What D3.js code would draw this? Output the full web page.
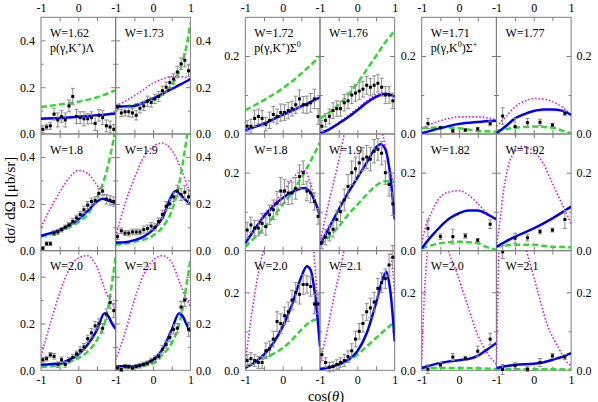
<!DOCTYPE html>
<html>
<head>
<meta charset="utf-8">
<script src="https://cdn.jsdelivr.net/npm/d3@7"></script>
<style>
  body { margin: 0; background: #fff; }
  svg { display: block; }
  text { font-family: "Liberation Serif", "Times New Roman", serif; }
</style>
</head>
<body>
<div id="my_dataviz"></div>
<script>
var width = 598
var height = 402

// bin centres of the data (cos theta)
var cos20 = [-0.95, -0.85, -0.75, -0.65, -0.55, -0.45, -0.35, -0.25, -0.15, -0.05,
             0.05, 0.15, 0.25, 0.35, 0.45, 0.55, 0.65, 0.75, 0.85, 0.95]
var cos6 = [-0.833, -0.5, -0.167, 0.167, 0.5, 0.833]

var xTickLabels = [-1, 0, 1]

// ---- p(gamma,K+)Lambda ----
var lamW = ["W=1.62", "W=1.73", "W=1.8", "W=1.9", "W=2.0", "W=2.1"]
var lamPts = [
  [0.02, 0.03, 0.035, 0.085, 0.06, 0.075, 0.06, 0.12, 0.16, 0.075, 0.07, 0.065, 0.065, 0.07, 0.045, 0.08, 0.07, 0.035, 0.03, 0.02],
  [0.115, 0.09, 0.095, 0.095, 0.09, 0.08, 0.11, 0.12, 0.14, 0.135, 0.15, 0.16, 0.185, 0.2, 0.22, 0.235, 0.265, 0.3, 0.315, 0.27],
  [0.01, 0.03, 0.03, 0.075, 0.08, 0.09, 0.1, 0.11, 0.125, 0.14, 0.155, 0.175, 0.195, 0.21, 0.215, 0.245, 0.255, 0.22, 0.215, 0.21],
  [0.06, 0.085, 0.075, 0.075, 0.08, 0.08, 0.08, 0.09, 0.095, 0.105, 0.1, 0.125, 0.155, 0.19, 0.2, 0.23, 0.255, 0.24, 0.25, 0.23],
  [0.045, 0.05, 0.066, 0.06, 0.024, 0.045, 0.025, 0.043, 0.055, 0.07, 0.085, 0.1, 0.135, 0.16, 0.19, 0.2, 0.18, 0.24, 0.29, 0.255],
  [0.01, 0.003, 0.017, 0.015, 0.01, 0.017, 0.02, 0.025, 0.03, 0.04, 0.05, 0.06, 0.09, 0.11, 0.14, 0.175, 0.18, 0.27, 0.3, 0.175]
]
var lamErr = [
  [0.015, 0.012, 0.015, 0.025, 0.03, 0.025, 0.03, 0.025, 0.035, 0.03, 0.025, 0.03, 0.022, 0.025, 0.03, 0.025, 0.03, 0.025, 0.025, 0.02],
  [0.012, 0.015, 0.018, 0.02, 0.018, 0.02, 0.02, 0.02, 0.022, 0.02, 0.02, 0.022, 0.02, 0.022, 0.025, 0.022, 0.025, 0.025, 0.028, 0.025],
  [0.008, 0.008, 0.008, 0.01, 0.01, 0.01, 0.01, 0.01, 0.012, 0.012, 0.012, 0.015, 0.015, 0.015, 0.015, 0.02, 0.02, 0.02, 0.02, 0.02],
  [0.012, 0.012, 0.01, 0.012, 0.012, 0.012, 0.012, 0.015, 0.015, 0.015, 0.015, 0.015, 0.018, 0.02, 0.02, 0.02, 0.025, 0.025, 0.028, 0.03],
  [0.01, 0.01, 0.01, 0.012, 0.012, 0.012, 0.012, 0.012, 0.012, 0.012, 0.015, 0.015, 0.015, 0.018, 0.018, 0.02, 0.02, 0.022, 0.025, 0.03],
  [0.008, 0.008, 0.008, 0.008, 0.008, 0.008, 0.01, 0.01, 0.01, 0.012, 0.012, 0.012, 0.015, 0.015, 0.018, 0.02, 0.02, 0.025, 0.028, 0.03]
]
var lamBlue = [
  [[-1, 0.065], [-0.5, 0.068], [0, 0.074], [0.5, 0.08], [1, 0.088]],
  [[-1, 0.12], [-0.75, 0.117], [-0.5, 0.12], [-0.25, 0.135], [0, 0.152], [0.25, 0.172], [0.5, 0.193], [0.75, 0.213], [1, 0.235]],
  [[-1, 0.064], [-0.75, 0.075], [-0.5, 0.09], [-0.25, 0.108], [0, 0.133], [0.25, 0.17], [0.5, 0.21], [0.65, 0.222], [0.8, 0.214], [1, 0.203]],
  [[-1, 0.035], [-0.75, 0.036], [-0.5, 0.045], [-0.25, 0.06], [0, 0.09], [0.25, 0.14], [0.5, 0.235], [0.6, 0.255], [0.7, 0.245], [0.85, 0.22], [1, 0.198]],
  [[-1, 0.024], [-0.5, 0.03], [-0.25, 0.045], [0, 0.067], [0.25, 0.11], [0.5, 0.173], [0.7, 0.244], [0.8, 0.232], [0.9, 0.2], [1, 0.177]],
  [[-1, 0.017], [-0.5, 0.017], [-0.25, 0.028], [0, 0.045], [0.25, 0.088], [0.5, 0.173], [0.7, 0.244], [0.8, 0.23], [0.9, 0.195], [1, 0.166]]
]
var lamGreen = [
  [[-1, 0.115], [-0.5, 0.126], [0, 0.138], [0.5, 0.157], [1, 0.187]],
  [[-1, 0.115], [-0.75, 0.118], [-0.5, 0.125], [-0.25, 0.133], [0, 0.147], [0.25, 0.17], [0.5, 0.21], [0.75, 0.29], [0.9, 0.38], [1, 0.475]],
  [[-1, 0.06], [-0.75, 0.07], [-0.5, 0.083], [-0.25, 0.1], [0, 0.122], [0.25, 0.155], [0.5, 0.228], [0.75, 0.336], [0.9, 0.44], [1, 0.52]],
  [[-1, 0.025], [-0.5, 0.038], [0, 0.065], [0.25, 0.1], [0.5, 0.17], [0.65, 0.25], [0.75, 0.33], [0.85, 0.43], [0.95, 0.53]],
  [[-1, 0.014], [-0.5, 0.024], [0, 0.052], [0.25, 0.08], [0.5, 0.13], [0.75, 0.23], [0.9, 0.37], [1, 0.49]],
  [[-1, 0.007], [-0.5, 0.014], [0, 0.03], [0.25, 0.067], [0.5, 0.116], [0.75, 0.23], [0.9, 0.37], [1, 0.47]]
]
var lamMag = [
  [[-1, 0.067], [-0.5, 0.07], [0, 0.075], [0.5, 0.081], [1, 0.09]],
  [[-1, 0.12], [-0.75, 0.14], [-0.5, 0.163], [-0.25, 0.19], [0, 0.217], [0.25, 0.235], [0.5, 0.245], [0.75, 0.245], [1, 0.232]],
  [[-1, 0.1], [-0.75, 0.18], [-0.5, 0.25], [-0.25, 0.31], [0, 0.343], [0.25, 0.33], [0.5, 0.28], [0.75, 0.23], [1, 0.21]],
  [[-1, 0.06], [-0.75, 0.2], [-0.5, 0.31], [-0.25, 0.4], [0, 0.445], [0.25, 0.46], [0.5, 0.43], [0.75, 0.35], [1, 0.24]],
  [[-1, 0.06], [-0.75, 0.2], [-0.5, 0.33], [-0.25, 0.43], [0, 0.48], [0.25, 0.49], [0.5, 0.44], [0.75, 0.33], [1, 0.265]],
  [[-1, 0.045], [-0.75, 0.16], [-0.5, 0.3], [-0.25, 0.41], [0, 0.47], [0.25, 0.49], [0.5, 0.46], [0.75, 0.36], [1, 0.27]]
]

// ---- p(gamma,K+)Sigma0 ----
var sig0W = ["W=1.72", "W=1.76", "W=1.8", "W=1.9", "W=2.0", "W=2.1"]
var sig0Pts = [
  [0.02, 0.02, 0.04, 0.045, 0.04, 0.025, 0.035, 0.05, 0.045, 0.055, 0.055, 0.06, 0.065, 0.075, 0.09, 0.075, 0.075, 0.08, 0.09, 0.045],
  [0.02, 0.035, 0.045, 0.06, 0.065, 0.065, 0.08, 0.085, 0.1, 0.105, 0.11, 0.115, 0.125, 0.12, 0.125, 0.13, 0.12, 0.1, 0.1, 0.085],
  [0.053, 0.066, 0.058, 0.058, 0.07, 0.062, 0.092, 0.105, 0.122, 0.153, 0.153, 0.148, 0.148, 0.16, 0.19, 0.2, 0.153, 0.148, 0.126, 0.088],
  [0.02, 0.035, 0.045, 0.055, 0.08, 0.1, 0.13, 0.165, 0.2, 0.21, 0.225, 0.235, 0.24, 0.235, 0.255, 0.26, 0.25, 0.2, 0.17, 0.12],
  [0.025, 0.03, 0.025, 0.02, 0.02, 0.05, 0.055, 0.08, 0.125, 0.12, 0.14, 0.15, 0.18, 0.2, 0.195, 0.22, 0.22, 0.215, 0.17, 0.17],
  [0.04, 0.02, 0.008, 0.01, 0.015, 0.02, 0.025, 0.035, 0.05, 0.08, 0.1, 0.12, 0.15, 0.16, 0.175, 0.21, 0.225, 0.235, 0.27, 0.29]
]
var sig0Err = [
  [0.014, 0.018, 0.021, 0.019, 0.02, 0.017, 0.021, 0.02, 0.019, 0.022, 0.02, 0.021, 0.019, 0.022, 0.023, 0.021, 0.022, 0.024, 0.025, 0.02],
  [0.014, 0.017, 0.019, 0.02, 0.02, 0.019, 0.021, 0.02, 0.022, 0.021, 0.022, 0.02, 0.023, 0.022, 0.024, 0.022, 0.023, 0.022, 0.021, 0.02],
  [0.02, 0.02, 0.02, 0.02, 0.025, 0.022, 0.025, 0.025, 0.03, 0.035, 0.03, 0.03, 0.028, 0.028, 0.03, 0.03, 0.025, 0.025, 0.022, 0.02],
  [0.015, 0.02, 0.02, 0.02, 0.022, 0.025, 0.028, 0.03, 0.03, 0.03, 0.03, 0.03, 0.03, 0.03, 0.03, 0.028, 0.03, 0.03, 0.03, 0.03],
  [0.015, 0.015, 0.015, 0.015, 0.015, 0.02, 0.02, 0.02, 0.025, 0.025, 0.022, 0.025, 0.025, 0.025, 0.025, 0.025, 0.022, 0.025, 0.025, 0.025],
  [0.015, 0.012, 0.012, 0.012, 0.012, 0.012, 0.015, 0.015, 0.018, 0.02, 0.02, 0.022, 0.022, 0.025, 0.025, 0.025, 0.025, 0.025, 0.028, 0.03]
]
var sig0Blue = [
  [[-1, 0.01], [-0.5, 0.027], [0, 0.049], [0.5, 0.071], [1, 0.094]],
  [[-1, 0.002], [-0.75, 0.012], [-0.5, 0.027], [-0.25, 0.043], [0, 0.061], [0.25, 0.08], [0.5, 0.095], [0.75, 0.103], [1, 0.096]],
  [[-1, 0.019], [-0.75, 0.055], [-0.5, 0.088], [-0.25, 0.114], [0, 0.135], [0.25, 0.15], [0.5, 0.16], [0.6, 0.161], [0.75, 0.148], [0.9, 0.118], [1, 0.09]],
  [[-1, 0.015], [-0.75, 0.06], [-0.5, 0.105], [-0.25, 0.148], [0, 0.187], [0.25, 0.226], [0.5, 0.265], [0.62, 0.273], [0.75, 0.26], [0.85, 0.215], [0.93, 0.15], [1, 0.08]],
  [[-1, 0.006], [-0.75, 0.02], [-0.5, 0.04], [-0.25, 0.07], [0, 0.112], [0.25, 0.168], [0.5, 0.24], [0.65, 0.267], [0.75, 0.257], [0.85, 0.206], [0.93, 0.138], [1, 0.061]],
  [[-1, 0.003], [-0.5, 0.015], [-0.25, 0.027], [0, 0.049], [0.25, 0.095], [0.5, 0.172], [0.7, 0.24], [0.78, 0.253], [0.85, 0.225], [0.91, 0.18], [1, 0.074]]
]
var sig0Green = [
  [[-1, 0.061], [-0.5, 0.087], [0, 0.117], [0.5, 0.155], [1, 0.2]],
  [[-1, 0.04], [-0.75, 0.055], [-0.5, 0.075], [-0.25, 0.1], [0, 0.13], [0.25, 0.165], [0.5, 0.2], [0.75, 0.235], [1, 0.265]],
  [[-1, 0.01], [-0.5, 0.058], [0, 0.118], [0.25, 0.148], [0.5, 0.187], [0.75, 0.23], [1, 0.278]],
  [[-1, 0.015], [-0.5, 0.062], [-0.25, 0.092], [0, 0.118], [0.25, 0.144], [0.5, 0.167], [0.75, 0.178], [1, 0.178]],
  [[-1, 0.009], [-0.5, 0.031], [0, 0.057], [0.25, 0.078], [0.5, 0.104], [0.75, 0.125], [0.9, 0.13], [1, 0.128]],
  [[-1, 0.003], [-0.5, 0.014], [0, 0.04], [0.25, 0.061], [0.5, 0.083], [0.75, 0.104], [1, 0.125]]
]
var sig0Mag = [
  [[-1, 0.011], [-0.5, 0.028], [0, 0.05], [0.5, 0.072], [1, 0.095]],
  [[-1, 0.004], [-0.75, 0.014], [-0.5, 0.03], [-0.25, 0.047], [0, 0.066], [0.25, 0.085], [0.5, 0.1], [0.75, 0.106], [1, 0.097]],
  [[-1, 0.019], [-0.75, 0.055], [-0.5, 0.092], [-0.25, 0.12], [0, 0.148], [0.25, 0.183], [0.5, 0.204], [0.6, 0.205], [0.75, 0.17], [0.9, 0.12], [1, 0.085]],
  [[-1, 0.02], [-0.75, 0.13], [-0.5, 0.23], [-0.35, 0.3], [-0.2, 0.36], [0, 0.41], [0.4, 0.4], [0.7, 0.29], [0.8, 0.24], [0.9, 0.2], [1, 0.16]],
  [[-1, 0.019], [-0.9, 0.095], [-0.8, 0.163], [-0.7, 0.223], [-0.6, 0.274], [-0.5, 0.31], [-0.3, 0.37], [0, 0.43], [0.4, 0.46], [0.7, 0.43], [0.8, 0.34], [0.9, 0.22], [0.95, 0.14], [1, 0.06]],
  [[-1, 0.02], [-0.8, 0.104], [-0.6, 0.2], [-0.5, 0.24], [-0.35, 0.31], [0, 0.42], [0.5, 0.45], [0.8, 0.36], [0.9, 0.3], [1, 0.2]]
]

// ---- p(gamma,K0)Sigma+ ----
var sigpW = ["W=1.71", "W=1.77", "W=1.82", "W=1.92", "W=2.0", "W=2.1"]
var sigpPts = [
  [0.027, 0.016, 0.008, 0.01, 0.013, 0.027],
  [0.046, 0.019, 0.029, 0.03, 0.023, 0.053],
  [0.057, 0.036, 0.036, 0.038, 0.027, 0.068],
  [-0.003, 0.032, 0.033, 0.049, 0.053, 0.08],
  [0.003, 0.014, 0.034, 0.031, 0.049, 0.08],
  [0.002, 0.012, 0.003, 0.02, 0.037, 0.034]
]
var sigpErr = [
  [0.013, 0.004, 0.004, 0.004, 0.004, 0.006],
  [0.021, 0.021, 0.011, 0.008, 0.004, 0.006],
  [0.021, 0.007, 0.019, 0.006, 0.004, 0.011],
  [0.017, 0.013, 0.008, 0.006, 0.005, 0.023],
  [0.011, 0.006, 0.009, 0.005, 0.013, 0.015],
  [0.013, 0.007, 0.006, 0.01, 0.006, 0.006]
]
var sigpBlue = [
  [[-1, 0.002], [-0.5, 0.015], [0, 0.026], [0.5, 0.031], [1, 0.034]],
  [[-1, 0.002], [-0.75, 0.02], [-0.5, 0.04], [-0.25, 0.051], [0, 0.059], [0.25, 0.063], [0.5, 0.063], [0.75, 0.06], [1, 0.049]],
  [[-1, 0.006], [-0.75, 0.036], [-0.5, 0.062], [-0.25, 0.083], [0, 0.096], [0.25, 0.103], [0.5, 0.103], [0.75, 0.094], [1, 0.08]],
  [[-1, 0.01], [-0.5, 0.036], [0, 0.057], [0.5, 0.083], [1, 0.113]],
  [[-1, 0.006], [-0.5, 0.019], [0, 0.026], [0.25, 0.029], [0.5, 0.037], [0.75, 0.053], [1, 0.07]],
  [[-1, 0.006], [-0.5, 0.014], [0, 0.017], [0.25, 0.02], [0.5, 0.027], [0.75, 0.034], [1, 0.044]]
]
var sigpGreen = [
  [[-1, 0.015], [-0.5, 0.017], [0, 0.015], [0.5, 0.008], [1, 0.006]],
  [[-1, 0.008], [-0.5, 0.016], [0, 0.019], [0.5, 0.016], [0.75, 0.009], [1, 0.002]],
  [[-1, 0.006], [-0.5, 0.019], [0, 0.023], [0.5, 0.019], [0.75, 0.009], [1, 0.002]],
  [[-1, 0.01], [-0.5, 0.015], [0, 0.015], [0.5, 0.01], [1, 0.009]],
  [[-1, 0.006], [0, 0.006], [1, 0.003]],
  [[-1, 0.003], [0, 0.003], [1, 0.002]]
]
var sigpMag = [
  [[-1, 0.015], [-0.5, 0.034], [0, 0.044], [0.5, 0.044], [1, 0.036]],
  [[-1, 0.02], [-0.75, 0.044], [-0.5, 0.07], [-0.25, 0.084], [0, 0.091], [0.25, 0.09], [0.5, 0.083], [0.75, 0.07], [1, 0.049]],
  [[-1, 0.02], [-0.9, 0.06], [-0.75, 0.096], [-0.5, 0.138], [-0.25, 0.151], [0, 0.154], [0.25, 0.143], [0.5, 0.121], [0.75, 0.096], [1, 0.083]],
  [[-1, 0.01], [-0.9, 0.08], [-0.8, 0.16], [-0.7, 0.21], [-0.5, 0.255], [-0.3, 0.267], [0, 0.255], [0.25, 0.224], [0.5, 0.173], [0.75, 0.121], [1, 0.07]],
  [[-1, 0.03], [-0.95, 0.15], [-0.9, 0.24], [-0.85, 0.3], [-0.8, 0.35], [-0.55, 0.4], [-0.3, 0.31], [-0.1, 0.26], [0.2, 0.175], [0.5, 0.09], [0.75, 0.045], [1, 0.015]],
  [[-1, 0.02], [-0.97, 0.15], [-0.94, 0.3], [-0.9, 0.4], [-0.5, 0.45], [-0.2, 0.31], [0, 0.24], [0.1, 0.205], [0.35, 0.12], [0.65, 0.06], [0.9, 0.02], [1, 0.012]]
]

// reaction labels: [text, superscript?]
var lamLabel = [["p(γ,K", 0], ["+", 1], [")Λ", 0]]
var sig0Label = [["p(γ,K", 0], ["+", 1], [")Σ", 0], ["0", 1]]
var sigpLabel = [["p(γ,K", 0], ["0", 1], [")Σ", 0], ["+", 1]]

// layout
var panelW = 74.7
var groupX = [41, 245.3, 421.7]
var rowTop = [17.3, 134, 250.7]
var rowBot = [134, 250.7, 370.3]
var pxPerUnit = [234, 390, 390]          // pixels per 1 µb/sr
var yMinor = [[0.1, 0.3], [0.1], [0.1]]
var yMajor = [[0.2, 0.4], [0.2], [0.2]]
var yLabels = [[0, 0.2, 0.4], [0, 0.2], [0, 0.2]]
var rightLabels = [true, false, true]

var groups = [
  { W: lamW, pts: lamPts, err: lamErr, blue: lamBlue, green: lamGreen, mag: lamMag, cos: cos20, label: lamLabel },
  { W: sig0W, pts: sig0Pts, err: sig0Err, blue: sig0Blue, green: sig0Green, mag: sig0Mag, cos: cos20, label: sig0Label },
  { W: sigpW, pts: sigpPts, err: sigpErr, blue: sigpBlue, green: sigpGreen, mag: sigpMag, cos: cos6, label: sigpLabel }
]

var frameColor = "#7f7f7f"
var serif = '"Liberation Serif", "Times New Roman", serif'

var svg = d3.select("#my_dataviz")
    .append("svg")
    .attr("width", width)
    .attr("height", height)

var defs = svg.append("defs")

function styleAxis(g, size) {
    g.attr("font-family", serif).attr("font-size", size)
    g.select(".domain").remove()
    g.selectAll(".tick line").attr("stroke", frameColor)
}

groups.forEach(function (g, gi) {
    for (var i = 0; i < 6; i++) {
        var row = Math.floor(i / 2), col = i % 2
        var x0 = groupX[gi] + col * panelW
        var x = d3.scaleLinear().domain([-1, 1]).range([x0, x0 + panelW])
        var y = d3.scaleLinear()
            .domain([0, (rowBot[row] - rowTop[row]) / pxPerUnit[gi]])
            .range([rowBot[row], rowTop[row]])

        var panel = svg.append("g")
        var clipId = "clip" + gi + "_" + i
        defs.append("clipPath").attr("id", clipId)
            .append("rect")
            .attr("x", x0).attr("y", rowTop[row])
            .attr("width", panelW).attr("height", rowBot[row] - rowTop[row])

        // inner ticks on all four sides
        panel.append("g").attr("transform", "translate(" + x0 + ",0)")
            .call(d3.axisRight(y).tickValues(yMinor[gi]).tickSize(2.5).tickFormat("")).call(styleAxis, 12)
        panel.append("g").attr("transform", "translate(" + x0 + ",0)")
            .call(d3.axisRight(y).tickValues(yMajor[gi]).tickSize(4.5).tickFormat("")).call(styleAxis, 12)
        panel.append("g").attr("transform", "translate(" + (x0 + panelW) + ",0)")
            .call(d3.axisLeft(y).tickValues(yMinor[gi]).tickSize(2.5).tickFormat("")).call(styleAxis, 12)
        panel.append("g").attr("transform", "translate(" + (x0 + panelW) + ",0)")
            .call(d3.axisLeft(y).tickValues(yMajor[gi]).tickSize(4.5).tickFormat("")).call(styleAxis, 12)
        panel.append("g").attr("transform", "translate(0," + rowTop[row] + ")")
            .call(d3.axisBottom(x).tickValues([-0.5, 0, 0.5]).tickSize(4).tickFormat("")).call(styleAxis, 12)
        panel.append("g").attr("transform", "translate(0," + rowBot[row] + ")")
            .call(d3.axisTop(x).tickValues([-0.5, 0, 0.5]).tickSize(4).tickFormat("")).call(styleAxis, 12)

        // frame
        panel.append("rect")
            .attr("x", x0).attr("y", rowTop[row])
            .attr("width", panelW).attr("height", rowBot[row] - rowTop[row])
            .attr("fill", "none")
            .attr("stroke", frameColor)
            .attr("stroke-width", 1)

        // x tick labels on top and bottom rows
        var xVals = col == 0 ? [-1, 0] : xTickLabels
        if (row == 0) {
            panel.append("g").attr("transform", "translate(0," + rowTop[row] + ")")
                .call(d3.axisTop(x).tickValues(xVals).tickSize(0).tickPadding(5.5).tickFormat(function (d) { return String(d) }))
                .call(styleAxis, 12)
        }
        if (row == 2) {
            panel.append("g").attr("transform", "translate(0," + rowBot[row] + ")")
                .call(d3.axisBottom(x).tickValues(xVals).tickSize(0).tickPadding(5.5).tickFormat(function (d) { return String(d) }))
                .call(styleAxis, 12)
        }

        // y tick labels
        if (col == 0) {
            panel.append("g").attr("transform", "translate(" + x0 + ",0)")
                .call(d3.axisLeft(y).tickValues(yLabels[gi]).tickSize(0).tickPadding(6).tickFormat(d3.format(".1f")))
                .call(styleAxis, 12)
        }
        if (col == 1 && rightLabels[gi]) {
            panel.append("g").attr("transform", "translate(" + (x0 + panelW) + ",0)")
                .call(d3.axisRight(y).tickValues(yLabels[gi]).tickSize(0).tickPadding(5.5).tickFormat(d3.format(".1f")))
                .call(styleAxis, 12)
        }

        // model curves
        var line = d3.line()
            .x(function (d) { return x(d[0]) })
            .y(function (d) { return y(d[1]) })
            .curve(d3.curveMonotoneX)
        var curves = panel.append("g").attr("clip-path", "url(#" + clipId + ")")
        curves.append("path").datum(g.mag[i])
            .attr("d", line).attr("fill", "none")
            .attr("stroke", "#ff00ff").attr("stroke-width", 1.6)
            .attr("stroke-dasharray", "1.5,2")
        curves.append("path").datum(g.green[i])
            .attr("d", line).attr("fill", "none")
            .attr("stroke", "#2edc2e").attr("stroke-width", 2.5)
            .attr("stroke-dasharray", "6,3")
        curves.append("path").datum(g.blue[i])
            .attr("d", line).attr("fill", "none")
            .attr("stroke", "#0000ff").attr("stroke-width", 2.5)

        // data with error bars
        var data = g.pts[i].map(function (v, k) { return { c: g.cos[k], v: v, e: g.err[i][k] } })
        var pts = panel.append("g")
        var bars = pts.selectAll(".bar").data(data).enter().append("g")
        bars.append("line")
            .attr("x1", function (d) { return x(d.c) }).attr("x2", function (d) { return x(d.c) })
            .attr("y1", function (d) { return y(d.v - d.e) }).attr("y2", function (d) { return y(d.v + d.e) })
            .attr("stroke", "#8c8c8c").attr("stroke-width", 1)
        bars.append("line")
            .attr("x1", function (d) { return x(d.c) - 2 }).attr("x2", function (d) { return x(d.c) + 2 })
            .attr("y1", function (d) { return y(d.v - d.e) }).attr("y2", function (d) { return y(d.v - d.e) })
            .attr("stroke", "#8c8c8c").attr("stroke-width", 1)
        bars.append("line")
            .attr("x1", function (d) { return x(d.c) - 2 }).attr("x2", function (d) { return x(d.c) + 2 })
            .attr("y1", function (d) { return y(d.v + d.e) }).attr("y2", function (d) { return y(d.v + d.e) })
            .attr("stroke", "#8c8c8c").attr("stroke-width", 1)
        bars.append("rect")
            .attr("x", function (d) { return x(d.c) - 1.5 })
            .attr("y", function (d) { return y(d.v) - 1.5 })
            .attr("width", 3).attr("height", 3)
            .attr("fill", "#000")

        // W label
        panel.append("text")
            .attr("x", x0 + 9).attr("y", rowTop[row] + 19.5)
            .attr("font-size", 12)
            .text(g.W[i])

        // reaction label in the first panel
        if (i == 0) {
            var t = panel.append("text")
                .attr("x", x0 + 9).attr("y", rowTop[row] + 34.5)
                .attr("font-size", 12)
            var prevSup = 0
            g.label.forEach(function (s) {
                var ts = t.append("tspan").text(s[0])
                if (s[1]) { ts.attr("font-size", 8).attr("dy", -5) }
                else if (prevSup) { ts.attr("dy", 5) }
                prevSup = s[1]
            })
        }
    }
})

// axis titles
svg.append("text")
    .attr("transform", "translate(15,200) rotate(-90)")
    .attr("text-anchor", "middle")
    .attr("font-size", 15)
    .text("dσ/ dΩ [μb/sr]")

var xt = svg.append("text")
    .attr("x", 326).attr("y", 400.5)
    .attr("text-anchor", "middle")
    .attr("font-size", 14.5)
xt.append("tspan").text("cos(")
xt.append("tspan").attr("font-style", "italic").text("θ")
xt.append("tspan").text(")")
</script>
</body>
</html>
